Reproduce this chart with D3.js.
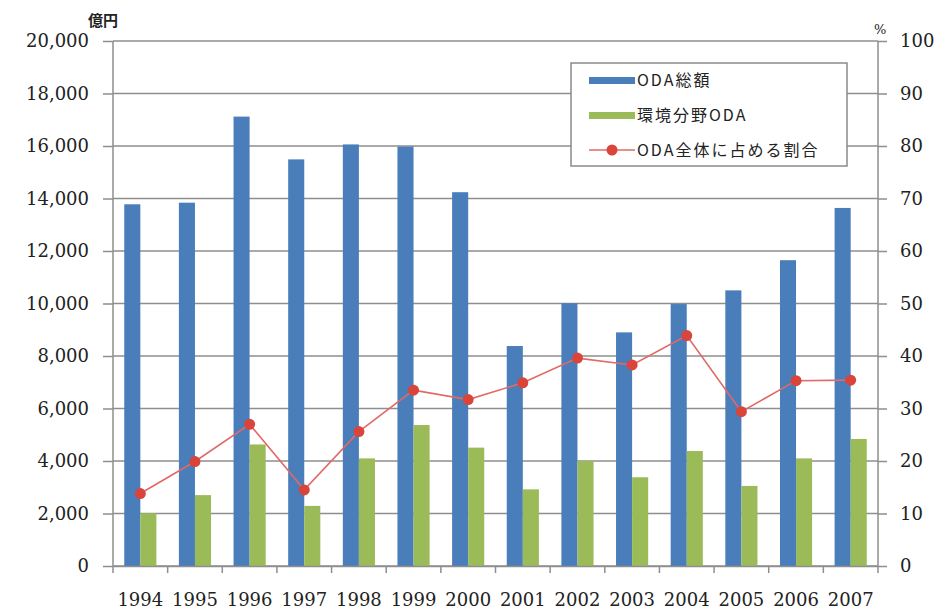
<!DOCTYPE html>
<html>
<head>
<meta charset="utf-8">
<script src="https://cdn.jsdelivr.net/npm/d3@7"></script>
<style>
  body { margin: 0; background: #fff; }
  text { fill: #222; }
</style>
</head>
<body>
<script>
var years = ["1994", "1995", "1996", "1997", "1998", "1999", "2000", "2001", "2002", "2003", "2004", "2005", "2006", "2007"];
// ODA総額 (億円)
var odaTotal = [13780, 13840, 17120, 15490, 16060, 15980, 14240, 8380, 10010, 8900, 9980, 10500, 11650, 13640];
// 環境分野ODA (億円)
var odaEnv = [2010, 2700, 4630, 2290, 4100, 5370, 4510, 2920, 4000, 3380, 4380, 3050, 4100, 4840];
// ODA全体に占める割合 (%)
var share = [13.8, 19.9, 27.0, 14.5, 25.6, 33.5, 31.7, 34.9, 39.6, 38.3, 43.9, 29.4, 35.3, 35.4];
var leftTicks = [0, 2000, 4000, 6000, 8000, 10000, 12000, 14000, 16000, 18000, 20000];
var rightTicks = [0, 10, 20, 30, 40, 50, 60, 70, 80, 90, 100];
var seriesNames = ["ODA総額", "環境分野ODA", "ODA全体に占める割合"];

var svgWidth = 937;
var svgHeight = 610;
var margin = { top: 41, right: 59, bottom: 44, left: 113 };
var width = svgWidth - margin.left - margin.right;
var height = svgHeight - margin.top - margin.bottom;

var blue = "#4a7ebb";
var green = "#9bbb59";
var red = "#d9443b";
var gridColor = "#8e8e8e";

var svg = d3.select("body")
  .append("svg")
  .attr("width", svgWidth)
  .attr("height", svgHeight);

var chartGroup = svg.append("g")
  .attr("transform", `translate(${margin.left}, ${margin.top})`);

var x = d3.scaleBand().domain(years).range([0, width]);
var x1 = d3.scaleBand().domain(["total", "env"]).range([0, x.bandwidth()]).paddingOuter(0.7);
var yLeft = d3.scaleLinear().domain([0, 20000]).range([height, 0]);
var yRight = d3.scaleLinear().domain([0, 100]).range([height, 0]);

// gridlines
chartGroup.append("g")
  .selectAll("line")
  .data(leftTicks)
  .enter().append("line")
  .attr("x1", 0).attr("x2", width)
  .attr("y1", d => yLeft(d)).attr("y2", d => yLeft(d))
  .attr("stroke", gridColor).attr("stroke-width", 1.5);

// left axis
var leftAxis = d3.axisLeft(yLeft).tickValues(leftTicks).tickFormat(d3.format(",")).tickSize(10).tickPadding(14);
var gl = chartGroup.append("g").call(leftAxis);
gl.select(".domain").attr("stroke", gridColor).attr("stroke-width", 1.5).attr("d", `M0,0V${height}`);
gl.selectAll(".tick line").attr("stroke", gridColor).attr("stroke-width", 1.5);
gl.selectAll(".tick text").attr("font-family", "DejaVu Serif").attr("font-size", 18).attr("fill", "#222");

// right axis
var rightAxis = d3.axisRight(yRight).tickValues(rightTicks).tickSize(9).tickPadding(13);
var gr = chartGroup.append("g").attr("transform", `translate(${width}, 0)`).call(rightAxis);
gr.select(".domain").attr("stroke", gridColor).attr("stroke-width", 1.5).attr("d", `M0,0V${height}`);
gr.selectAll(".tick line").attr("stroke", gridColor).attr("stroke-width", 1.5);
gr.selectAll(".tick text").attr("font-family", "DejaVu Serif").attr("font-size", 18).attr("fill", "#222");

// bars
var groups = chartGroup.append("g")
  .selectAll("g")
  .data(years)
  .enter().append("g")
  .attr("transform", d => `translate(${x(d)}, 0)`);

groups.append("rect")
  .attr("x", x1("total"))
  .attr("width", x1.bandwidth())
  .attr("y", (d, i) => yLeft(odaTotal[i]))
  .attr("height", (d, i) => height - yLeft(odaTotal[i]))
  .attr("fill", blue);

groups.append("rect")
  .attr("x", x1("env"))
  .attr("width", x1.bandwidth())
  .attr("y", (d, i) => yLeft(odaEnv[i]))
  .attr("height", (d, i) => height - yLeft(odaEnv[i]))
  .attr("fill", green);

// bottom axis
var bottomAxis = d3.axisBottom(x).tickSize(0).tickPadding(27);
var gb = chartGroup.append("g").attr("transform", `translate(0, ${height})`).call(bottomAxis);
gb.select(".domain").attr("stroke", gridColor).attr("stroke-width", 1.5);
gb.selectAll(".tick text").attr("font-family", "DejaVu Serif").attr("font-size", 18).attr("fill", "#222");
gb.append("g").selectAll("line")
  .data(years.concat(["end"]))
  .enter().append("line")
  .attr("x1", (d, i) => i * x.step()).attr("x2", (d, i) => i * x.step())
  .attr("y1", 0).attr("y2", 7)
  .attr("stroke", gridColor).attr("stroke-width", 1.5);

// share line
var line = d3.line()
  .x((d, i) => x(years[i]) + x.bandwidth() / 2)
  .y(d => yRight(d));

chartGroup.append("path")
  .datum(share)
  .attr("d", line)
  .attr("fill", "none")
  .attr("stroke", "#e06a66")
  .attr("stroke-width", 1.6);

chartGroup.append("g")
  .selectAll("circle")
  .data(share)
  .enter().append("circle")
  .attr("cx", (d, i) => x(years[i]) + x.bandwidth() / 2)
  .attr("cy", d => yRight(d))
  .attr("r", 5.5)
  .attr("fill", red);

// unit labels
svg.append("text").attr("x", 88).attr("y", 26)
  .attr("font-family", "Noto Sans CJK JP").attr("font-size", 15).attr("font-weight", "bold")
  .text("億円");
svg.append("text").attr("x", 874).attr("y", 34)
  .attr("font-family", "DejaVu Serif").attr("font-size", 13)
  .text("%");

// legend
var legend = svg.append("g").attr("transform", "translate(571, 63)");
legend.append("rect")
  .attr("width", 276).attr("height", 103)
  .attr("fill", "#fff").attr("stroke", "#8a8a8a").attr("stroke-width", 1.5);

var legendRows = legend.selectAll("g.row")
  .data(seriesNames)
  .enter().append("g")
  .attr("class", "row")
  .attr("transform", (d, i) => `translate(0, ${17 + i * 35})`);

legendRows.filter((d, i) => i < 2).append("rect")
  .attr("x", 18).attr("y", -3).attr("width", 46).attr("height", 7)
  .attr("fill", (d, i) => i === 0 ? blue : green);

var lastRow = legendRows.filter((d, i) => i === 2);
lastRow.append("line")
  .attr("x1", 18).attr("x2", 64).attr("y1", 0).attr("y2", 0)
  .attr("stroke", "#e06a66").attr("stroke-width", 1.6);
lastRow.append("circle")
  .attr("cx", 41).attr("cy", 0).attr("r", 5.5).attr("fill", red);

legendRows.append("text")
  .attr("x", 66).attr("y", 0).attr("dy", "0.36em")
  .attr("font-family", "Noto Sans CJK JP").attr("font-size", 16)
  .attr("letter-spacing", 2)
  .text(d => d);
</script>
</body>
</html>
